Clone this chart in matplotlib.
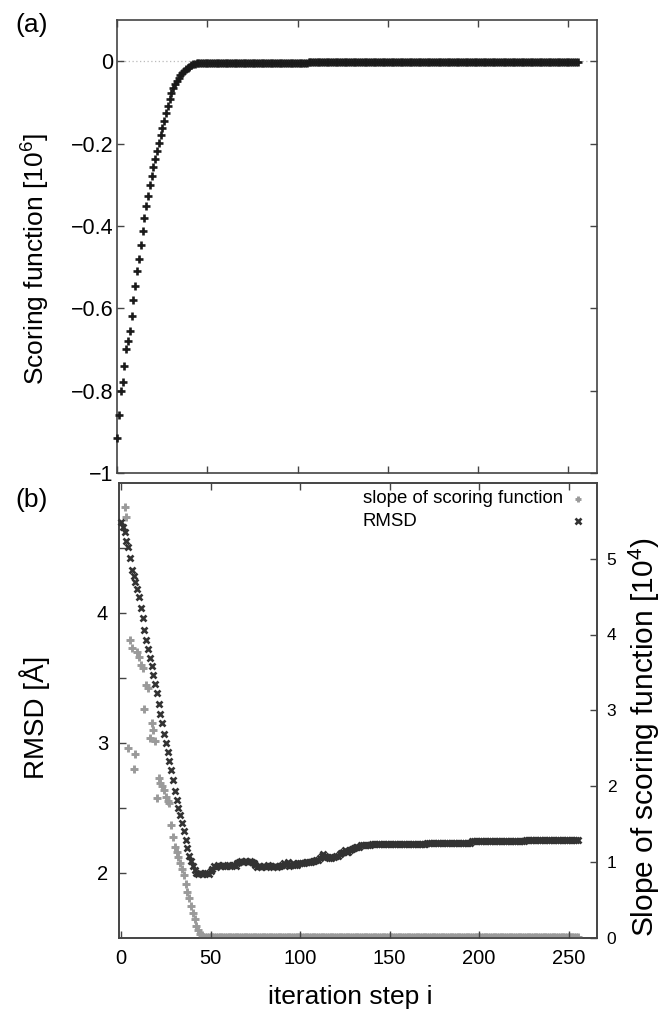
import numpy as np
import matplotlib
matplotlib.use("Agg")
import matplotlib.pyplot as plt
from matplotlib.ticker import FixedLocator, FuncFormatter

plt.rcParams["font.family"] = ["Liberation Sans", "DejaVu Sans"]
plt.rcParams["mathtext.fontset"] = "custom"
plt.rcParams["mathtext.rm"] = "Liberation Sans"
plt.rcParams["mathtext.it"] = "Liberation Sans"

# ── Data ────────────────────────────────────────────────────────
# (a) scoring function [10^6] per iteration step
score_early = [-0.916, -0.86, -0.80, -0.778, -0.74, -0.70, -0.68, -0.655,
               -0.618, -0.58, -0.545, -0.509, -0.48, -0.447, -0.413, -0.38,
               -0.352, -0.327, -0.30, -0.279, -0.257, -0.237, -0.218, -0.198,
               -0.18, -0.163, -0.145, -0.126, -0.108, -0.092, -0.078, -0.065,
               -0.055, -0.047, -0.040, -0.034, -0.028, -0.023, -0.019, -0.016,
               -0.013, -0.010, -0.008, -0.006, -0.005, -0.004]
score_late = [-0.004] * 60 + [-0.003] * 80 + [-0.002] * 70
score = np.array(score_early + score_late)

# (b) RMSD [Å]
rmsd_early = [4.70, 4.66, 4.62, 4.55, 4.51, 4.42, 4.33, 4.28, 4.24, 4.18,
              4.12, 4.04, 3.96, 3.87, 3.79, 3.72, 3.65, 3.59, 3.52, 3.45,
              3.38, 3.30, 3.22, 3.15, 3.07, 3.00, 2.93, 2.86, 2.79, 2.71,
              2.63, 2.56, 2.50, 2.44, 2.38, 2.32, 2.25, 2.19, 2.13, 2.09,
              2.05, 2.02, 2.00, 1.99, 2.00, 1.99, 1.99, 2.00, 2.00, 1.99,
              2.01]
rmsd_mid = [2.03, 2.05, 2.04, 2.06, 2.05,
            2.05, 2.06, 2.05, 2.05, 2.06, 2.05, 2.06, 2.06, 2.05, 2.07,
            2.08, 2.09, 2.08, 2.09, 2.09, 2.08, 2.09, 2.08, 2.07, 2.06,
            2.04, 2.05, 2.04, 2.05, 2.05, 2.04, 2.06, 2.05, 2.05, 2.04,
            2.05, 2.04, 2.05, 2.05, 2.06,
            2.07, 2.06, 2.08, 2.05, 2.06, 2.07, 2.06, 2.06, 2.07, 2.07,
            2.07, 2.07, 2.08, 2.08, 2.08, 2.08, 2.09, 2.09, 2.10, 2.10,
            2.11, 2.13, 2.14, 2.13, 2.12,
            2.11, 2.11, 2.12, 2.12, 2.13, 2.13, 2.14, 2.15, 2.16, 2.17,
            2.16, 2.16, 2.17, 2.18, 2.19,
            2.20, 2.20, 2.20, 2.21, 2.21, 2.21, 2.21, 2.21, 2.21, 2.22,
            2.22, 2.22, 2.22, 2.22, 2.22]
rmsd_late = [2.22] * 25 + [2.23] * 25 + [2.24] * 30 + [2.25] * 30
rmsd = np.array(rmsd_early + rmsd_mid + rmsd_late)

# (b) slope of scoring function [10^4]
slope_early = [np.nan, np.nan, 5.68, 5.55, 2.50, 3.93, 3.82, 2.23, 2.42, 3.77,
               3.70, 3.60, 3.56, 3.02, 3.33, 3.30, 2.63, 2.83, 2.74, 2.60,
               1.84, 2.10, 2.04, 2.00, 1.95, 1.85, 1.80, 1.77, 1.48, 1.33,
               1.20, 1.13, 1.06, 0.98, 0.90, 0.82, 0.70, 0.60, 0.52, 0.42,
               0.33, 0.25, 0.15, 0.10, 0.05, 0.03]
slope_late = [0.01] * 210
slope = np.array(slope_early + slope_late)

steps = np.arange(len(score))
x_ticks = [0, 50, 100, 150, 200, 250]
score_ticks = [0, -0.2, -0.4, -0.6, -0.8, -1]
rmsd_ticks = [2, 3, 4]
rmsd_minor = [2.5, 3.5, 4.5]
slope_ticks = [0, 1, 2, 3, 4, 5]

# ── Figure ─────────────────────────────────────────────────────
W, H = 670, 1010
fig = plt.figure(figsize=(W / 100, H / 100), dpi=100)

SPINE = "#444444"
C_SCORE = "#1a1a1a"
C_RMSD = "#333333"
C_SLOPE = "#9a9a9a"


def px_box(left, top, right, bottom):
    return [left / W, 1 - bottom / H, (right - left) / W, (bottom - top) / H]


def fmt_minus(v, _):
    return f"{v:g}".replace("-", "\u2212")


def style_spines(ax):
    for sp in ax.spines.values():
        sp.set_color(SPINE)
        sp.set_linewidth(1.2)


# ── Panel (a) ──
ax1 = fig.add_axes(px_box(116.7, 20, 597, 473))
ax1.axhline(0, color="#bbbbbb", linestyle=(0, (1, 2)), linewidth=0.9, zorder=1)
ax1.plot(steps, score, linestyle="none", marker="+", markersize=5.5,
         markeredgewidth=1.9, color=C_SCORE, clip_on=False, zorder=3)
ax1.set_xlim(-0.3, 265.8)
ax1.set_ylim(-1.0, 0.1)
ax1.xaxis.set_major_locator(FixedLocator(x_ticks))
ax1.yaxis.set_major_locator(FixedLocator(score_ticks))
ax1.yaxis.set_major_formatter(FuncFormatter(fmt_minus))
ax1.tick_params(axis="both", direction="in", length=5, width=1, color=SPINE,
                top=True, right=True, labelbottom=False, labelsize=15.5)
ax1.tick_params(axis="y", pad=2.5)
style_spines(ax1)
ax1.set_ylabel("Scoring function [10$^{6}$]", fontsize=19)
ax1.yaxis.set_label_coords(-0.135, 0.472)

# ── Panel (b) ──
ax2 = fig.add_axes(px_box(119.3, 483, 597, 937.5))
ax3 = ax2.twinx()

ax3.plot(steps, slope, linestyle="none", marker="+", markersize=5.5,
         markeredgewidth=2.1, color=C_SLOPE, zorder=3)
ax2.plot(steps, rmsd, linestyle="none", marker="x", markersize=5,
         markeredgewidth=1.9, color=C_RMSD, clip_on=False, zorder=3)

ax2.set_xlim(-1, 265.8)
ax2.set_ylim(1.5, 5.0)
ax3.set_ylim(0, 6.0)
ax2.xaxis.set_major_locator(FixedLocator(x_ticks))
ax2.yaxis.set_major_locator(FixedLocator(rmsd_ticks))
ax2.yaxis.set_minor_locator(FixedLocator(rmsd_minor))
ax3.yaxis.set_major_locator(FixedLocator(slope_ticks))
ax2.tick_params(axis="both", which="both", direction="in", length=5, width=1,
                color=SPINE, top=True, right=False, labelsize=14.5, pad=8)
ax3.tick_params(axis="y", direction="in", length=5, width=1, color=SPINE,
                labelsize=12.5, pad=7)
style_spines(ax2)
style_spines(ax3)
ax2.set_zorder(ax3.get_zorder() + 1)
ax2.patch.set_visible(False)

ax2.set_ylabel("RMSD [Å]", fontsize=20)
ax2.yaxis.set_label_coords(-0.145, 0.485)
ax3.set_ylabel("Slope of scoring function [10$^{4}$)", fontsize=21.5)
ax3.yaxis.set_label_coords(1.062, 0.44)
ax2.set_xlabel("iteration step i", fontsize=19)
ax2.xaxis.set_label_coords(0.483, -0.1045)

# legend: text left-aligned, key symbol at the right
key_x, text_x = 0.960, 0.510
for ypos, label, mk, col, mew in [(0.965, "slope of scoring function", "+", C_SLOPE, 2.1),
                                  (0.916, "RMSD", "x", C_RMSD, 1.9)]:
    ax2.text(text_x, ypos, label, transform=ax2.transAxes, fontsize=13.4,
             ha="left", va="center")
    ax2.plot([key_x], [ypos], transform=ax2.transAxes, linestyle="none",
             marker=mk, markersize=5, markeredgewidth=mew, color=col,
             clip_on=False)

fig.text(15 / W, 1 - 13 / H, "(a)", fontsize=19, va="top", ha="left")
fig.text(15 / W, 1 - 488 / H, "(b)", fontsize=19, va="top", ha="left")

fig.savefig("out.png", dpi=100)
